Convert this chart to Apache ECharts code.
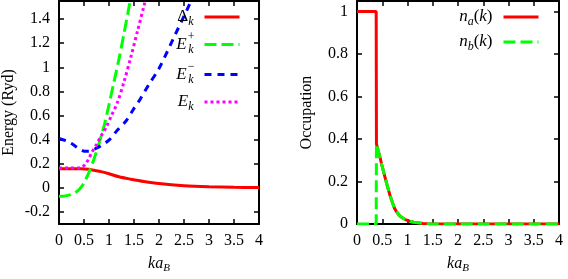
<!DOCTYPE html>
<html><head><meta charset="utf-8">
<script src="https://cdn.jsdelivr.net/npm/echarts@6/dist/echarts.min.js"></script>
<style>html,body{margin:0;padding:0;background:#fff}#c{width:568px;height:279px}</style>
</head><body><div id="c"></div>
<script>
// ---- tick labels ----
const xTicks = [0, 0.5, 1, 1.5, 2, 2.5, 3, 3.5, 4];
const energyTicks = [-0.2, 0, 0.2, 0.4, 0.6, 0.8, 1, 1.2, 1.4];
const occTicks = [0, 0.2, 0.4, 0.6, 0.8, 1];

// ---- left panel: energies (Ryd) vs k a_B ----
const deltaK = [0, 0.2, 0.45, 0.6, 0.7, 0.84, 1.0, 1.2, 1.44, 1.7, 2.0, 2.5, 3.0, 3.5, 4.0];
const deltaV = [0.16, 0.16, 0.16, 0.154, 0.146, 0.135, 0.117, 0.092, 0.072, 0.053, 0.036, 0.019, 0.01, 0.005, 0.003];

const ePlusK = [0, 0.1, 0.2, 0.3, 0.4, 0.5, 0.55, 0.6, 0.7, 0.8, 0.9, 1.0, 1.1, 1.2, 1.3, 1.4, 1.5];
const ePlusV = [-0.07, -0.068, -0.06, -0.045, -0.015, 0.04, 0.084, 0.13, 0.24, 0.37, 0.51, 0.69, 0.88, 1.07, 1.28, 1.5, 1.73];

const eMinusK = [0, 0.15, 0.28, 0.4, 0.51, 0.6, 0.75, 0.88, 1.01, 1.17, 1.34, 1.5, 1.63, 1.8, 2.0, 2.3, 2.62, 2.75];
const eMinusV = [0.41, 0.39, 0.36, 0.325, 0.305, 0.305, 0.33, 0.36, 0.40, 0.48, 0.555, 0.66, 0.74, 0.86, 0.99, 1.25, 1.53, 1.65];

const eK = [0, 0.2, 0.4, 0.45, 0.5, 0.55, 0.6, 0.65, 0.75, 0.84, 0.94, 1.05, 1.17, 1.3, 1.44, 1.57, 1.7, 1.8];
const eV = [0.165, 0.165, 0.166, 0.17, 0.185, 0.21, 0.245, 0.29, 0.36, 0.43, 0.5, 0.6, 0.71, 0.88, 1.09, 1.3, 1.51, 1.67];

// ---- right panel: occupations vs k a_B ----
const naK = [0, 0.38, 0.385, 0.42, 0.46, 0.5, 0.55, 0.6, 0.65, 0.7, 0.745, 0.8, 0.85, 0.91, 0.97, 1.04, 1.12, 1.2, 1.3, 1.4, 1.6, 2, 3, 4];
const naV = [1, 1, 0.377, 0.345, 0.31, 0.27, 0.225, 0.18, 0.138, 0.103, 0.073, 0.052, 0.038, 0.028, 0.02, 0.014, 0.009, 0.006, 0.003, 0.002, 0.001, 0, 0, 0];
const nbK = [0, 0.38, 0.385, 0.42, 0.46, 0.5, 0.55, 0.6, 0.65, 0.7, 0.745, 0.8, 0.85, 0.91, 0.97, 1.04, 1.12, 1.2, 1.3, 1.4, 1.6, 2, 3, 4];
const nbV = [0, 0, 0.377, 0.345, 0.31, 0.27, 0.225, 0.18, 0.138, 0.103, 0.073, 0.052, 0.038, 0.028, 0.02, 0.014, 0.009, 0.006, 0.003, 0.002, 0.001, 0, 0, 0];

const pairs = (ks, vs) => ks.map((k, i) => [k, vs[i]]);
const serif = 'Liberation Serif';
const rich = {
  r:  {fontFamily: serif, fontSize: 17, color: '#000', lineHeight: 22, align: 'left'},
  i:  {fontFamily: serif, fontSize: 17, fontStyle: 'italic', color: '#000', lineHeight: 22, align: 'left'},
  sb: {fontFamily: serif, fontSize: 12, fontStyle: 'italic', color: '#000', lineHeight: 22, padding: [10, 0, 0, 0], align: 'left'},
  spz:{fontFamily: serif, fontSize: 12, color: '#000', lineHeight: 22, padding: [0, 0, 15, 1], width: 0.5, align: 'left'},
  g:  {fontFamily: serif, fontSize: 17, lineHeight: 22, width: 6, align: 'left'},
  xi: {fontFamily: serif, fontSize: 16, fontStyle: 'italic', color: '#000', lineHeight: 20},
  xs: {fontFamily: serif, fontSize: 11, fontStyle: 'italic', color: '#000', lineHeight: 20, padding: [9, 0, 0, 0]}
};
const legendText = {
  'Delta':  '{r|Δ}{sb|k}{g| }',
  'Eplus':  '{i|E}{spz|+}{sb|k}{g| }',
  'Eminus': '{i|E}{spz|−}{sb|k}{g| }',
  'E':      '{i|E}{sb|k}{g| }',
  'na':     '{i|n}{sb|a}{r|(}{i|k}{r|)}{g| }',
  'nb':     '{i|n}{sb|b}{r|(}{i|k}{r|)}{g| }'
};

const frame = {lineStyle: {color: '#000', width: 2}};
const tickIn = (vals) => ({show: true, inside: true, length: 5, customValues: vals, lineStyle: {color: '#000', width: 1.5}});
const lbl = (vals) => ({show: true, customValues: vals, color: '#000', fontFamily: serif, fontSize: 16, margin: 9});
const xName = {name: '{xi|ka}{xs|B}', nameLocation: 'middle', nameGap: 23, nameTextStyle: {rich: rich, fontFamily: serif, fontSize: 16, lineHeight: 20}};

const xAxisDef = (gi, pos, showLabel) => Object.assign({
  type: 'value', gridIndex: gi, position: pos, min: 0, max: 4, interval: 0.5,
  axisLine: Object.assign({show: true, onZero: false}, frame),
  axisTick: tickIn(xTicks),
  axisLabel: showLabel ? lbl(xTicks) : {show: false},
  splitLine: {show: false}
}, showLabel ? xName : {});

const yAxisDef = (gi, pos, min, max, ticks, name) => Object.assign({
  type: 'value', gridIndex: gi, position: pos, min: min, max: max,
  axisLine: Object.assign({show: true, onZero: false}, frame),
  axisTick: tickIn(ticks),
  axisLabel: name ? lbl(ticks) : {show: false},
  splitLine: {show: false}
}, name ? {name: name, nameLocation: 'middle', nameGap: 42, nameTextStyle: {fontFamily: serif, fontSize: 16, color: '#000'}} : {});

const lineSeries = (name, data, xi, yi, color, dash, smooth) => ({
  name: name, type: 'line', xAxisIndex: xi, yAxisIndex: yi, data: data,
  symbol: 'none', smooth: smooth, clip: true, animation: false,
  lineStyle: {color: color, width: 3, type: dash, cap: 'butt'},
  itemStyle: {color: color}
});

const legendDef = (names, right) => ({
  data: names, orient: 'vertical', align: 'right', right: right, top: 6,
  padding: 0, itemGap: 3, itemWidth: 35, itemHeight: 14,
  selectedMode: false,
  lineStyle: {width: 3},
  itemStyle: {opacity: 0, borderWidth: 0},
  textStyle: {fontFamily: serif, fontSize: 17, color: '#000', lineHeight: 22, rich: rich},
  formatter: (n) => legendText[n]
});

const chart = echarts.init(document.getElementById('c'), null, {renderer: 'canvas'});
chart.setOption({
  animation: false,
  backgroundColor: '#fff',
  grid: [
    {left: 57, top: 1, width: 202, height: 241},
    {left: 357, top: 1, width: 202, height: 241}
  ],
  xAxis: [
    xAxisDef(0, 'bottom', true), xAxisDef(0, 'top', false),
    xAxisDef(1, 'bottom', true), xAxisDef(1, 'top', false)
  ],
  yAxis: [
    yAxisDef(0, 'left', -0.3, 1.55, energyTicks, 'Energy (Ryd)'), yAxisDef(0, 'right', -0.3, 1.55, energyTicks, null),
    yAxisDef(1, 'left', 0, 1.05, occTicks, 'Occupation'), yAxisDef(1, 'right', 0, 1.05, occTicks, null)
  ],
  legend: [
    legendDef(['Delta', 'Eplus', 'Eminus', 'E'], 327),
    legendDef(['na', 'nb'], 28)
  ],
  series: [
    lineSeries('Delta', pairs(deltaK, deltaV), 0, 0, '#ff0000', 'solid', 0.3),
    lineSeries('Eplus', pairs(ePlusK, ePlusV), 0, 0, '#00ff00', [12, 5], 0.3),
    lineSeries('Eminus', pairs(eMinusK, eMinusV), 0, 0, '#0000ff', [7, 6], 0.3),
    lineSeries('E', pairs(eK, eV), 0, 0, '#ff00ff', [3, 3], 0.3),
    lineSeries('na', pairs(naK, naV), 2, 2, '#ff0000', 'solid', false),
    lineSeries('nb', pairs(nbK, nbV), 2, 2, '#00ff00', [12, 5], false)
  ]
});
</script></body></html>
